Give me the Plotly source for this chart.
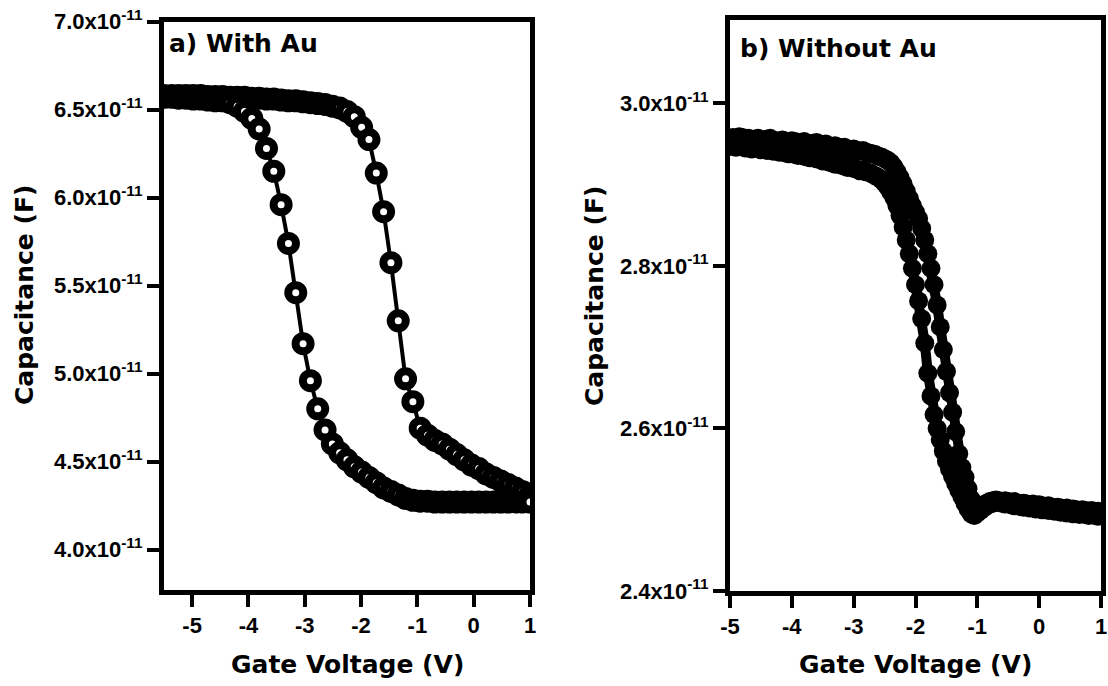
import plotly.graph_objects as go

W, H = 1108, 686
SCALE = 1e-11  # capacitance values below are in units of 1e-11 F

# ---- Panel a) With Au : gate sweep (V) and capacitance (x1e-11 F) ----
va = [-5.50, -5.37, -5.24, -5.11, -4.98, -4.85, -4.72, -4.59, -4.46, -4.33,
      -4.20, -4.07, -3.94, -3.81, -3.68, -3.55, -3.42, -3.29, -3.16, -3.03,
      -2.90, -2.77, -2.64, -2.51, -2.38, -2.25, -2.12, -1.99, -1.86, -1.73,
      -1.60, -1.47, -1.34, -1.21, -1.08, -0.95, -0.82, -0.69, -0.56, -0.43,
      -0.30, -0.17, -0.04, 0.09, 0.22, 0.35, 0.48, 0.61, 0.74, 0.87,
      1.00]
ca_fwd = [6.58, 6.58, 6.58, 6.58, 6.58, 6.58, 6.575, 6.575, 6.575, 6.57,
          6.57, 6.57, 6.565, 6.565, 6.56, 6.56, 6.555, 6.55, 6.55, 6.545,
          6.54, 6.535, 6.53, 6.52, 6.51, 6.49, 6.46, 6.40, 6.33, 6.14,
          5.92, 5.63, 5.30, 4.97, 4.84, 4.69, 4.65, 4.62, 4.60, 4.57,
          4.54, 4.51, 4.48, 4.46, 4.43, 4.41, 4.39, 4.37, 4.35, 4.33,
          4.31]
ca_rev = [6.57, 6.57, 6.565, 6.565, 6.56, 6.56, 6.555, 6.55, 6.55, 6.54,
          6.52, 6.49, 6.45, 6.39, 6.28, 6.15, 5.96, 5.74, 5.46, 5.17,
          4.96, 4.80, 4.68, 4.60, 4.55, 4.51, 4.47, 4.44, 4.41, 4.38,
          4.35, 4.33, 4.31, 4.29, 4.28, 4.275, 4.275, 4.27, 4.27, 4.27,
          4.27, 4.27, 4.27, 4.27, 4.27, 4.27, 4.27, 4.27, 4.27, 4.27,
          4.27]

# ---- Panel b) Without Au ----
vb = [-5.00, -4.95, -4.90, -4.85, -4.80, -4.75, -4.70, -4.65, -4.60, -4.55,
      -4.50, -4.45, -4.40, -4.35, -4.30, -4.25, -4.20, -4.15, -4.10, -4.05,
      -4.00, -3.95, -3.90, -3.85, -3.80, -3.75, -3.70, -3.65, -3.60, -3.55,
      -3.50, -3.45, -3.40, -3.35, -3.30, -3.25, -3.20, -3.15, -3.10, -3.05,
      -3.00, -2.95, -2.90, -2.85, -2.80, -2.75, -2.70, -2.65, -2.60, -2.55,
      -2.50, -2.45, -2.40, -2.35, -2.30, -2.25, -2.20, -2.15, -2.10, -2.05,
      -2.00, -1.95, -1.90, -1.85, -1.80, -1.75, -1.70, -1.65, -1.60, -1.55,
      -1.50, -1.45, -1.40, -1.35, -1.30, -1.25, -1.20, -1.15, -1.10, -1.05,
      -1.00, -0.95, -0.90, -0.85, -0.80, -0.75, -0.70, -0.65, -0.60, -0.55,
      -0.50, -0.45, -0.40, -0.35, -0.30, -0.25, -0.20, -0.15, -0.10, -0.05,
      0.00, 0.05, 0.10, 0.15, 0.20, 0.25, 0.30, 0.35, 0.40, 0.45,
      0.50, 0.55, 0.60, 0.65, 0.70, 0.75, 0.80, 0.85, 0.90, 0.95,
      1.00]
cb_hi = [2.955, 2.958, 2.957, 2.959, 2.958, 2.956, 2.957, 2.955, 2.956, 2.957,
         2.955, 2.954, 2.956, 2.957, 2.955, 2.953, 2.954, 2.955, 2.953, 2.952,
         2.954, 2.953, 2.951, 2.952, 2.953, 2.951, 2.950, 2.951, 2.952, 2.950,
         2.949, 2.950, 2.948, 2.947, 2.948, 2.946, 2.945, 2.946, 2.944, 2.943,
         2.944, 2.942, 2.941, 2.942, 2.940, 2.939, 2.938, 2.937, 2.935, 2.934,
         2.932, 2.930, 2.927, 2.922, 2.916, 2.909, 2.901, 2.892, 2.883, 2.874,
         2.866, 2.858, 2.846, 2.832, 2.815, 2.797, 2.777, 2.752, 2.725, 2.697,
         2.670, 2.644, 2.620, 2.596, 2.569, 2.552, 2.540, 2.526, 2.513, 2.503,
         2.500, 2.503, 2.506, 2.508, 2.510, 2.511, 2.512, 2.511, 2.510, 2.511,
         2.510, 2.509, 2.510, 2.508, 2.507, 2.508, 2.507, 2.506, 2.507, 2.505,
         2.506, 2.505, 2.504, 2.505, 2.503, 2.502, 2.503, 2.502, 2.501, 2.502,
         2.500, 2.501, 2.500, 2.499, 2.500, 2.499, 2.498, 2.499, 2.497, 2.498,
         2.497]
cb_lo = [2.947, 2.949, 2.946, 2.948, 2.947, 2.945, 2.946, 2.944, 2.946, 2.945,
         2.943, 2.944, 2.942, 2.943, 2.941, 2.942, 2.940, 2.941, 2.939, 2.938,
         2.939, 2.937, 2.936, 2.937, 2.935, 2.934, 2.933, 2.934, 2.932, 2.931,
         2.929, 2.930, 2.928, 2.927, 2.925, 2.926, 2.924, 2.923, 2.921, 2.922,
         2.920, 2.919, 2.917, 2.918, 2.916, 2.915, 2.913, 2.911, 2.909, 2.906,
         2.902, 2.897, 2.891, 2.884, 2.874, 2.862, 2.848, 2.832, 2.815, 2.797,
         2.777, 2.757, 2.735, 2.705, 2.668, 2.640, 2.617, 2.600, 2.586, 2.572,
         2.560, 2.550, 2.541, 2.532, 2.524, 2.516, 2.508, 2.501, 2.495, 2.493,
         2.496, 2.499, 2.502, 2.505, 2.507, 2.508, 2.509, 2.510, 2.508, 2.507,
         2.508, 2.506, 2.505, 2.506, 2.504, 2.503, 2.504, 2.502, 2.503, 2.501,
         2.502, 2.500, 2.501, 2.499, 2.500, 2.498, 2.499, 2.497, 2.498, 2.496,
         2.497, 2.495, 2.496, 2.494, 2.495, 2.494, 2.493, 2.494, 2.493, 2.492,
         2.493]

# ---- Tick definitions ----
x_ticks = [-5, -4, -3, -2, -1, 0, 1]
ya_ticks = [4.0, 4.5, 5.0, 5.5, 6.0, 6.5, 7.0]
yb_ticks = [2.4, 2.6, 2.8, 3.0]


def sci_label(v):
    return f"<b>{v:.1f}x10<sup>-11</sup></b>"


def px_x(p):
    return p / W


def px_y(p):
    return 1 - p / H


TICK_FONT = dict(family="Liberation Sans, Arial, sans-serif", size=22, color="black")
TITLE_FONT = dict(family="DejaVu Sans, sans-serif", size=25, color="black")

fig = go.Figure()

# Panel a: open rings joined by a line
ring = dict(symbol="circle", size=15, color="white",
            line=dict(color="black", width=8))
fig.add_trace(go.Scatter(x=va, y=[c * SCALE for c in ca_fwd], mode="lines+markers",
                         line=dict(color="black", width=4), marker=ring,
                         xaxis="x", yaxis="y", showlegend=False))
fig.add_trace(go.Scatter(x=va, y=[c * SCALE for c in ca_rev], mode="lines+markers",
                         line=dict(color="black", width=4), marker=ring,
                         xaxis="x", yaxis="y", showlegend=False))

# Panel b: dense filled dots
dot = dict(symbol="circle", size=19, color="black", line=dict(width=0))
for cb in (cb_hi, cb_lo):
    fig.add_trace(go.Scatter(x=vb, y=[c * SCALE for c in cb], mode="lines+markers",
                             line=dict(color="black", width=10), marker=dot,
                             xaxis="x2", yaxis="y2", showlegend=False))

axis_common = dict(showline=True, linewidth=5, linecolor="black", mirror=True,
                   ticks="outside", ticklen=12, tickwidth=4, tickcolor="black",
                   showgrid=False, zeroline=False, tickfont=TICK_FONT,
                   automargin=False)

fig.update_layout(
    template="none",
    width=W, height=H,
    margin=dict(l=0, r=0, t=0, b=0),
    paper_bgcolor="white", plot_bgcolor="white",
    xaxis=dict(domain=[px_x(164), px_x(530)], range=[-5.5, 1.0],
               tickvals=x_ticks, ticktext=[f"<b>{t}</b>" for t in x_ticks],
               anchor="y", **axis_common),
    yaxis=dict(domain=[px_y(590), px_y(21.7)],
               range=[3.77 * SCALE, 7.0 * SCALE],
               tickvals=[t * SCALE for t in ya_ticks],
               ticktext=[sci_label(t) for t in ya_ticks],
               anchor="x", **axis_common),
    xaxis2=dict(domain=[px_x(730), px_x(1101)], range=[-5.0, 1.0],
                tickvals=x_ticks, ticktext=[f"<b>{t}</b>" for t in x_ticks],
                anchor="y2", **axis_common),
    yaxis2=dict(domain=[px_y(591), px_y(19.7)],
                range=[2.4 * SCALE, 3.103 * SCALE],
                tickvals=[t * SCALE for t in yb_ticks],
                ticktext=[sci_label(t) for t in yb_ticks],
                anchor="x2", **axis_common),
)

annotations = [
    dict(text="<b>a) With Au</b>", x=px_x(167), y=px_y(44), xanchor="left", yanchor="middle"),
    dict(text="<b>b) Without Au</b>", x=px_x(738), y=px_y(48), xanchor="left", yanchor="middle"),
    dict(text="<b>Gate Voltage (V)</b>", x=px_x(347), y=px_y(664), xanchor="center", yanchor="middle"),
    dict(text="<b>Gate Voltage (V)</b>", x=px_x(915), y=px_y(664), xanchor="center", yanchor="middle"),
    dict(text="<b>Capacitance (F)</b>", x=px_x(24), y=px_y(295), xanchor="center", yanchor="middle",
         textangle=-90),
    dict(text="<b>Capacitance (F)</b>", x=px_x(594), y=px_y(296), xanchor="center", yanchor="middle",
         textangle=-90),
]
for a in annotations:
    a.update(xref="paper", yref="paper", showarrow=False, font=TITLE_FONT)
fig.update_layout(annotations=annotations)

fig.write_html("out.html")
